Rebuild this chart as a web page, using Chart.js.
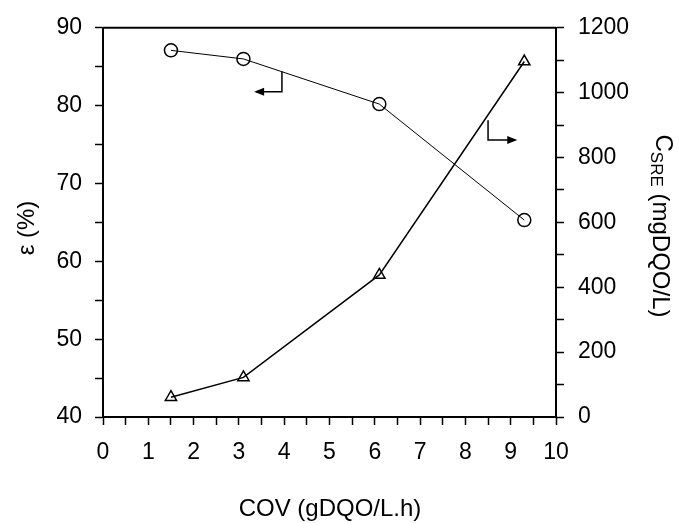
<!DOCTYPE html>
<html>
<head>
<meta charset="utf-8">
<script src="https://cdn.jsdelivr.net/npm/chart.js@4"></script>
<style>
html, body { margin: 0; padding: 0; background: #fff; }
#wrap { width: 679px; height: 523px; }
</style>
</head>
<body>
<div id="wrap"><canvas id="chart" width="679" height="523"></canvas></div>
<script>
// COV (gDQO/L.h)
var cov = [1.5, 3.1, 6.1, 9.3];
// efficiency, %
var eficiencia = [87.1, 86, 80.2, 65.3];
// C_SRE, mgDQO/L
var csre = [61, 122, 438, 1096];

var xTicks = [0, 1, 2, 3, 4, 5, 6, 7, 8, 9, 10];
var leftTicks = [40, 50, 60, 70, 80, 90];
var rightTicks = [0, 200, 400, 600, 800, 1000, 1200];

var FAM = '"Liberation Sans", Arial, sans-serif';
var font = { family: FAM, size: 23 };

function pts(xs, ys) {
    return xs.map(function(x, i) { return { x: x, y: ys[i] }; });
}

// frame, axis titles and the two arrows
var decor = {
    id: 'decor',
    afterDraw: function(chart) {
        var c = chart.ctx, a = chart.chartArea;
        var sx = chart.scales.x, sy = chart.scales.y, sy1 = chart.scales.y1;
        c.save();
        c.strokeStyle = '#000';
        c.lineWidth = 2;
        c.beginPath();
        c.moveTo(a.left, a.top);
        c.lineTo(a.right, a.top);
        c.stroke();

        c.fillStyle = '#000';
        c.font = '24px ' + FAM;
        c.textAlign = 'center';
        c.textBaseline = 'middle';
        c.fillText('COV (gDQO/L.h)', 330, 509);

        c.save();
        c.translate(27, 228);
        c.rotate(-Math.PI / 2);
        c.fillText('\u03b5 (%)', 0, 0);
        c.restore();

        // right title with subscript
        c.save();
        c.translate(660, 226);
        c.rotate(Math.PI / 2);
        c.textAlign = 'left';
        var t1 = 'C', t2 = 'SRE', t3 = ' (mgDQO/L)';
        c.font = '24px ' + FAM;
        var w1 = c.measureText(t1).width, w3 = c.measureText(t3).width;
        c.font = '17px ' + FAM;
        var w2 = c.measureText(t2).width;
        var x0 = -(w1 + w2 + w3) / 2;
        c.font = '24px ' + FAM;
        c.fillText(t1, x0, -3);
        c.font = '17px ' + FAM;
        c.fillText(t2, x0 + w1, 4);
        c.font = '24px ' + FAM;
        c.fillText(t3, x0 + w1 + w2, 0);
        c.restore();

        // arrows
        function arrow(x, yTop, yBot, xEnd) {
            c.lineWidth = 1.5;
            c.beginPath();
            c.moveTo(x, yTop);
            c.lineTo(x, yBot);
            c.lineTo(xEnd, yBot);
            c.stroke();
            var d = xEnd > x ? 1 : -1;
            c.beginPath();
            c.moveTo(xEnd + d * 2, yBot);
            c.lineTo(xEnd - d * 8, yBot - 4);
            c.lineTo(xEnd - d * 8, yBot + 4);
            c.closePath();
            c.fill();
        }
        arrow(sx.getPixelForValue(3.95), sy.getPixelForValue(84.4), sy.getPixelForValue(81.8), sx.getPixelForValue(3.38));
        arrow(sx.getPixelForValue(8.5), sy1.getPixelForValue(915), sy1.getPixelForValue(854), sx.getPixelForValue(9.1));
        c.restore();
    }
};

new Chart(document.getElementById('chart').getContext('2d'), {
    type: 'line',
    data: {
        datasets: [{
            data: pts(cov, eficiencia),
            yAxisID: 'y',
            borderColor: '#000',
            borderWidth: 1,
            pointStyle: 'circle',
            pointRadius: 6.5,
            pointBorderWidth: 1.5,
            pointBorderColor: '#000',
            pointBackgroundColor: 'rgba(0,0,0,0)',
            fill: false,
            tension: 0
        }, {
            data: pts(cov, csre),
            yAxisID: 'y1',
            borderColor: '#000',
            borderWidth: 1.5,
            pointStyle: 'triangle',
            pointRadius: 6.5,
            pointBorderWidth: 1.5,
            pointBorderColor: '#000',
            pointBackgroundColor: 'rgba(0,0,0,0)',
            fill: false,
            tension: 0
        }]
    },
    options: {
        responsive: false,
        animation: false,
        layout: { padding: { top: 25, left: 0, right: 0, bottom: 0 } },
        plugins: { legend: { display: false }, tooltip: { enabled: false } },
        scales: {
            x: {
                type: 'linear',
                min: 0, max: 10,
                afterFit: function(s) { s.height = 106; },
                ticks: {
                    stepSize: 0.5,
                    autoSkip: false,
                    maxRotation: 0,
                    padding: 14,
                    color: '#000',
                    font: font,
                    callback: function(v) { return xTicks.indexOf(v) >= 0 ? String(v) : ''; }
                },
                grid: { drawOnChartArea: false, tickLength: 8, color: '#000', tickWidth: 1.5 },
                border: { color: '#000', width: 2 }
            },
            y: {
                position: 'left',
                min: 40, max: 90,
                afterFit: function(s) { s.width = 103; },
                ticks: {
                    stepSize: 5,
                    autoSkip: false,
                    padding: 13,
                    color: '#000',
                    font: font,
                    callback: function(v) { return leftTicks.indexOf(v) >= 0 ? String(v) : ''; }
                },
                grid: { drawOnChartArea: false, tickLength: 8, color: '#000', tickWidth: 1.5 },
                border: { color: '#000', width: 2 }
            },
            y1: {
                position: 'right',
                min: 0, max: 1200,
                afterFit: function(s) { s.width = 123; },
                ticks: {
                    stepSize: 100,
                    autoSkip: false,
                    padding: 14,
                    color: '#000',
                    font: font,
                    callback: function(v) { return rightTicks.indexOf(v) >= 0 ? String(v) : ''; }
                },
                grid: { drawOnChartArea: false, tickLength: 8, color: '#000', tickWidth: 1.5 },
                border: { color: '#000', width: 2 }
            }
        }
    },
    plugins: [decor]
});
</script>
</body>
</html>
